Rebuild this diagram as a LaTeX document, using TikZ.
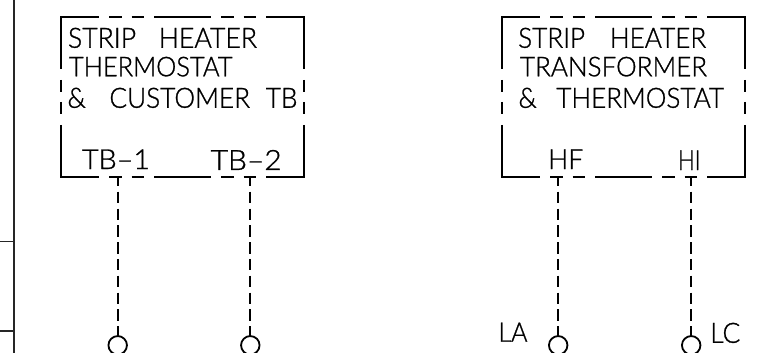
\documentclass[tikz,border=0pt]{standalone}
\usepackage{fontspec}
\setmainfont{Lato Light}[FakeBold=1]
\newcommand{\fitlabel}[3]{\resizebox{#1pt}{#2pt}{#3}}
\tikzset{
  x=1pt,y=-1pt,
  wire/.style={line width=1.8pt,black,line cap=butt},
  hside/.style={wire,shorten <=-0.9pt,shorten >=-0.9pt,dash pattern=on 57pt off 10pt on 12.5pt off 10pt on 12.5pt off 10pt,dash phase=18.1pt},
  vside/.style={wire,dash pattern=on 104pt off 11pt on 12pt off 10pt on 12pt off 11pt,dash phase=52pt},
  feed/.style={wire,dash pattern=on 11.5pt off 5.3pt,dash phase=2.1pt},
  frame/.style={inner sep=0pt,outer sep=0pt,minimum width=243pt,minimum height=160pt},
  terminal/.style={circle,draw,line width=1.8pt,inner sep=0pt,outer sep=0pt,minimum size=18.5pt},
  lbl/.style={inner sep=0pt,outer sep=0pt,anchor=south west},
}
\begin{document}
\begin{tikzpicture}
\useasboundingbox (0,0) rectangle (764,353);
\clip (0,0) rectangle (764,353);
\fill[white] (0,0) rectangle (764,353);
% left rail
\coordinate (railT) at (14.2,0);
\coordinate (railB) at (14.2,353);
\coordinate (tickA) at (0,241.7);
\coordinate (tickB) at (0,331);
\draw[line width=2pt,black!85] (railT) -- (railB);
\draw[line width=1.5pt,black!85] (tickA) -- (tickA -| railT);
\draw[line width=1.5pt,black!85] (tickB) -- (tickB -| railT);
% frames
\node[frame] (boxA) at (182.5,97) {};
\node[frame] (boxB) at (623.5,97) {};
\foreach \b in {boxA,boxB}{
  \draw[hside] (\b.north west) -- (\b.north east);
  \draw[hside] (\b.south west) -- (\b.south east);
  \draw[vside] (\b.north west) -- (\b.south west);
  \draw[vside] (\b.north east) -- (\b.south east);
}
% texts, left
\node[lbl] (a1) at (68,48) {\fitlabel{189}{20}{STRIP\hspace{0.85em}HEATER}};
\node[lbl] (a2) at (69,76.5) {\fitlabel{163.5}{19.5}{THERMOSTAT}};
\node[lbl] (a3) at (67.5,108) {\fitlabel{230}{20}{\&\hspace{0.9em}CUSTOMER\hspace{0.6em}TB}};
\node[lbl] (a4) at (82,169) {\fitlabel{68}{19.5}{TB–1}};
\node[lbl] (a5) at (210.7,170) {\fitlabel{71}{20}{TB–2}};
% texts, right
\node[lbl] (b1) at (518.2,48) {\fitlabel{188}{20}{STRIP\hspace{0.95em}HEATER}};
\node[lbl] (b2) at (520,76.5) {\fitlabel{187}{19.5}{TRANSFORMER}};
\node[lbl] (b3) at (518.5,108) {\fitlabel{205.5}{20}{\&\hspace{0.75em}THERMOSTAT}};
\node[lbl] (b4) at (548.2,169) {\fitlabel{35}{19.5}{HF}};
\node[lbl] (b5) at (678,170) {\fitlabel{22.5}{19.5}{HI}};
\node[lbl] (la) at (498.5,341.7) {\fitlabel{29}{19}{LA}};
\node[lbl] (lc) at (710.3,343) {\fitlabel{30}{20}{LC}};
% terminals
\node[terminal] (t1) at (117.7,345.3) {};
\node[terminal] (t2) at (250.3,345.3) {};
\node[terminal] (t3) at (558.2,345.3) {};
\node[terminal] (t4) at (691.2,345.3) {};
% connectors
\draw[feed] (t1.north |- boxA.south) -- (t1.north);
\draw[feed] (t2.north |- boxA.south) -- (t2.north);
\draw[feed] (t3.north |- boxB.south) -- (t3.north);
\draw[feed] (t4.north |- boxB.south) -- (t4.north);
\end{tikzpicture}
\end{document}
